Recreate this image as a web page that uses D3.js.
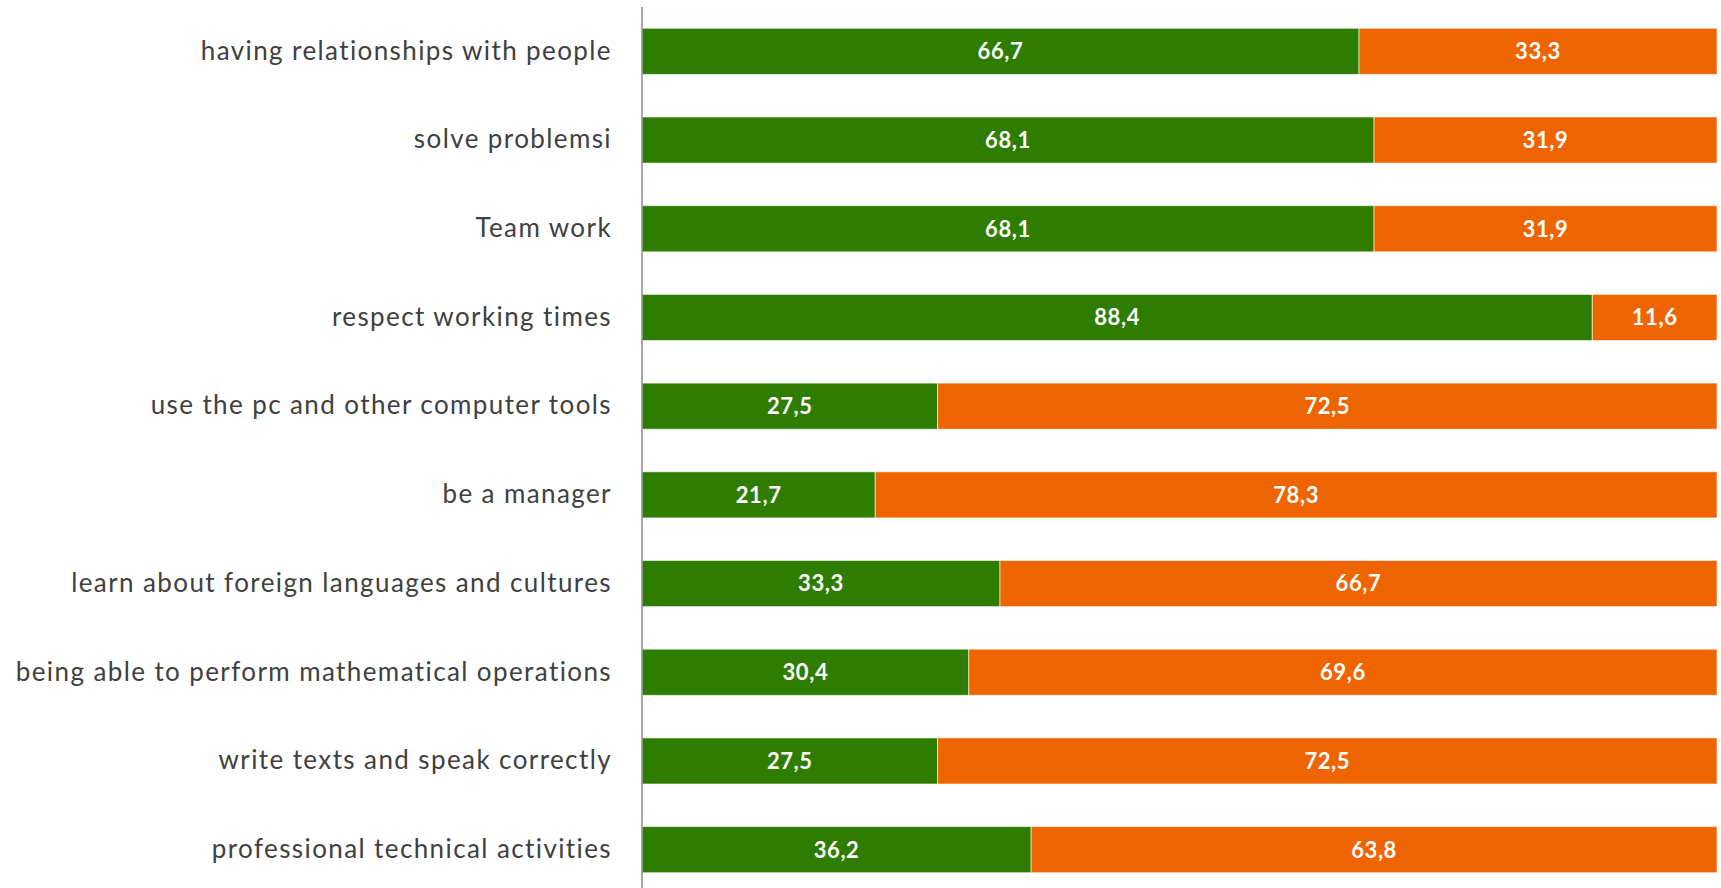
<!DOCTYPE html>
<html>
<head>
<meta charset="utf-8">
<script src="https://cdn.jsdelivr.net/npm/d3@7"></script>
<style>
  html, body { margin: 0; padding: 0; background: #ffffff; }
  svg { display: block; }
</style>
</head>
<body>
<svg id="chart" width="1721" height="888"></svg>
<script>
// Skills, top to bottom
const categories = [
  "having relationships with people",
  "solve problemsi",
  "Team work",
  "respect working times",
  "use the pc and other computer tools",
  "be a manager",
  "learn about foreign languages and cultures",
  "being able to perform mathematical operations",
  "write texts and speak correctly",
  "professional technical activities"
];
const greenValues  = [66.7, 68.1, 68.1, 88.4, 27.5, 21.7, 33.3, 30.4, 27.5, 36.2];
const orangeValues = [33.3, 31.9, 31.9, 11.6, 72.5, 78.3, 66.7, 69.6, 72.5, 63.8];
const seriesColors = ["#2f7d00", "#ee6500"];

const svg = d3.select("#chart");
const W = 1721, H = 888;
const left = 642, right = 1717;

const rows = categories.map((c, i) => ({ cat: c, g: greenValues[i], o: orangeValues[i] }));
const stack = d3.stack().keys(["g", "o"])(rows);

const x = d3.scaleLinear().domain([0, 100]).range([left, right]);
const y = d3.scaleBand().domain(categories).range([7, 894]).paddingInner(0.48).paddingOuter(0.24);

const fmt = v => d3.format(".1f")(v).replace(".", ",");

stack.forEach((layer, si) => {
  const g = svg.append("g");
  g.selectAll("rect").data(layer).join("rect")
    .attr("x", d => x(d[0]))
    .attr("y", d => y(d.data.cat))
    .attr("width", d => x(d[1]) - x(d[0]))
    .attr("height", y.bandwidth())
    .attr("fill", seriesColors[si])
    .attr("stroke", "#ffffff")
    .attr("stroke-opacity", 0.6)
    .attr("stroke-width", 1);
  g.selectAll("text").data(layer).join("text")
    .attr("x", d => (x(d[0]) + x(d[1])) / 2)
    .attr("y", d => y(d.data.cat) + y.bandwidth() / 2)
    .attr("dy", "0.36em")
    .attr("text-anchor", "middle")
    .attr("fill", "#ffffff")
    .attr("font-family", "Lato, 'Open Sans', sans-serif")
    .attr("font-weight", 700)
    .attr("font-size", 22)
    .attr("letter-spacing", 0.6)
    .text(d => fmt(d[1] - d[0]));
});

// Category axis
const yAxis = d3.axisLeft(y).tickSize(0).tickPadding(30);
const ax = svg.append("g").attr("transform", `translate(${left},0)`).call(yAxis);
ax.select(".domain").remove();
ax.selectAll("text")
  .attr("fill", "#404040")
  .attr("font-family", "Lato, 'Open Sans', sans-serif")
  .attr("font-size", 26)
  .attr("letter-spacing", 1.4);

svg.append("line")
  .attr("x1", left).attr("x2", left)
  .attr("y1", 7).attr("y2", H)
  .attr("stroke", "#8c8c8c")
  .attr("stroke-width", 1.5);
</script>
</body>
</html>
